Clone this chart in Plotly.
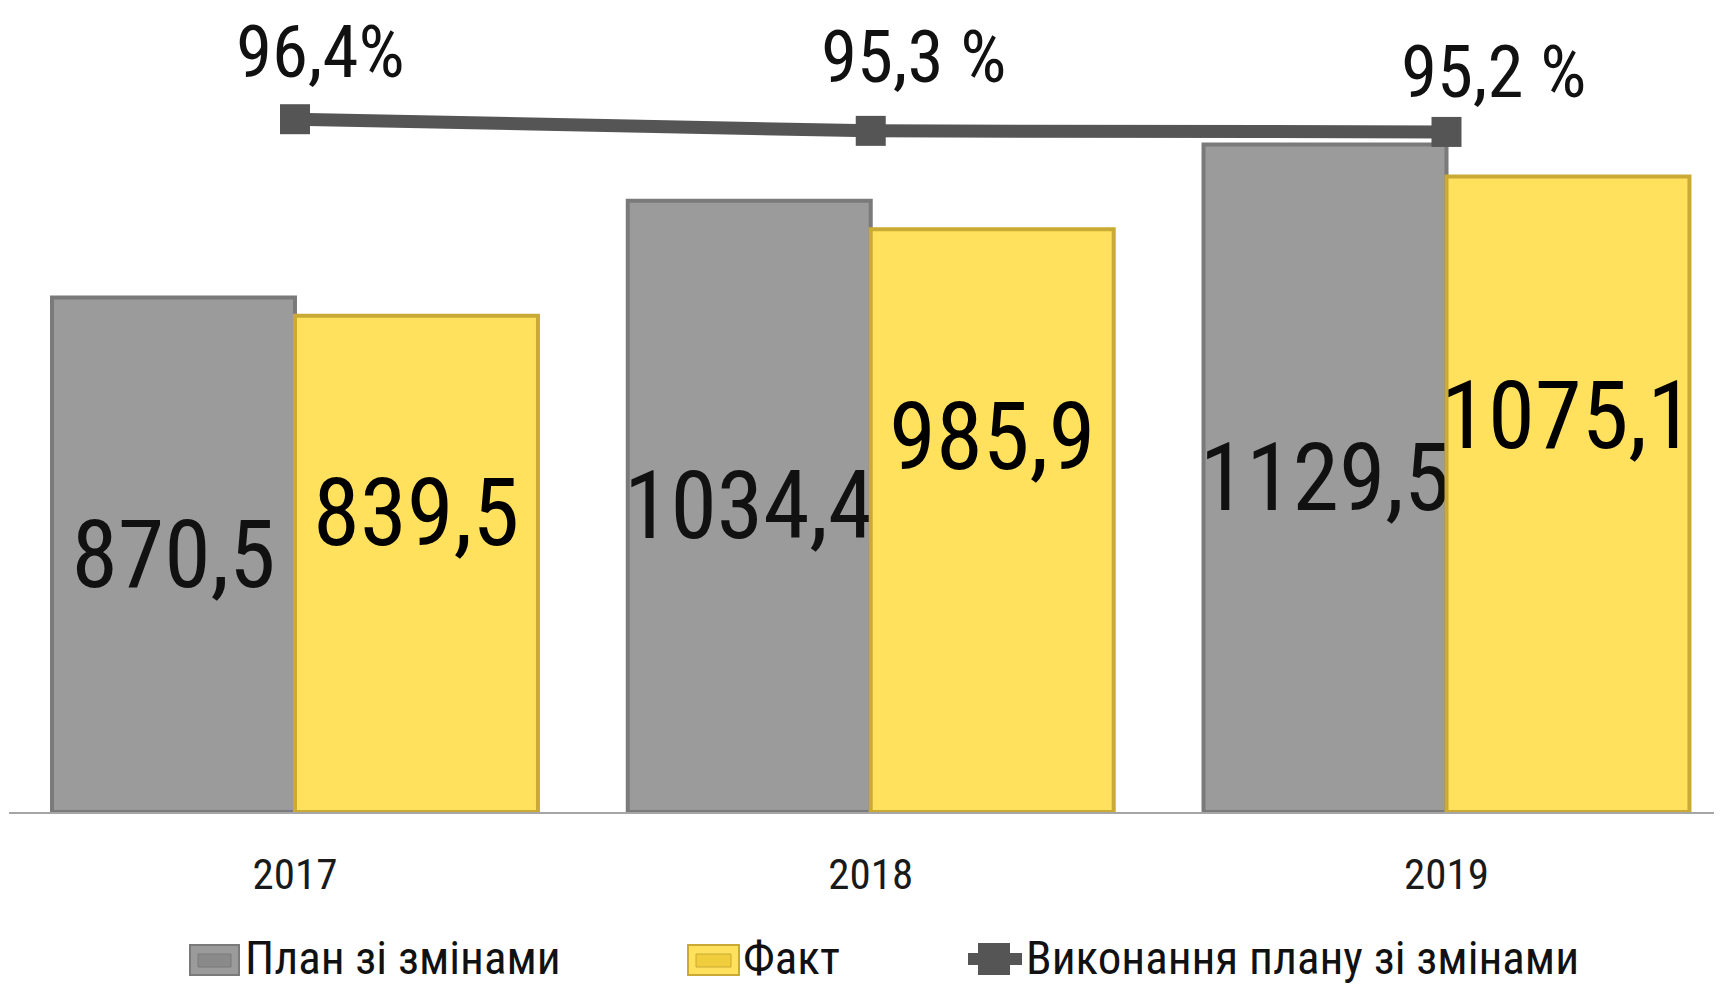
import plotly.graph_objects as go

# ---------------- data ----------------
years = ["2017", "2018", "2019"]
plan_values = [870.5, 1034.4, 1129.5]
fact_values = [839.5, 985.9, 1075.1]
execution_pct = [96.4, 95.3, 95.2]
pct_labels = ["96,4%", "95,3 %", "95,2 %"]
series_names = ["План зі змінами", "Факт", "Виконання плану зі змінами"]

# ---------------- style ----------------
PAGE_OFF = 8          # default body margin of the html page
W, H = 1714, 980
ML, MR, MT, MB = 1, 0, 12, 176
FONT = "Liberation Sans Narrow, Arial Narrow, Roboto Condensed, DejaVu Sans Condensed, sans-serif"
GRAY = "#9b9b9b"
GRAY_EDGE = "#7a7a7a"
YELLOW = "#ffe15e"
YELLOW_EDGE = "#c9aa34"
LINE_C = "#555555"
X_RANGE = [-0.4967, 2.4785]
Y_RANGE = [0, 1340.1]
Y2_RANGE = [31.04, 105.76]
BAR_W = 0.422

# label shifts (pixels) for the "Факт" value labels and the % labels
fact_label_yshift = [51, 84, 79]
pct_label_xshift = [26, 43, 47]
pct_label_yshift = [67, 74, 60]


def fmt(v):
    return f"{v:.1f}".replace(".", ",")


plot_w = W - ML - MR
plot_h = H - MT - MB
px_per_cat = plot_w / (X_RANGE[1] - X_RANGE[0])


def pxx(page_x):
    return (page_x - PAGE_OFF - ML) / plot_w


def pxy(page_y):
    return (H - MB - (page_y - PAGE_OFF)) / plot_h


fig = go.Figure()

fig.add_trace(go.Bar(
    x=years, y=plan_values, name=series_names[0],
    marker=dict(color=GRAY, line=dict(color=GRAY_EDGE, width=4)),
    text=[fmt(v) for v in plan_values], textposition="inside",
    insidetextanchor="middle", constraintext="none", textangle=0,
    textfont=dict(family=FONT, size=94, color="#111111"),
    showlegend=False, offsetgroup="a",
))
fig.add_trace(go.Bar(
    x=years, y=fact_values, name=series_names[1],
    marker=dict(color=YELLOW, line=dict(color=YELLOW_EDGE, width=4)),
    textposition="none", showlegend=False, offsetgroup="b",
))
fig.add_trace(go.Scatter(
    x=years, y=execution_pct, name=series_names[2], yaxis="y2",
    mode="lines+markers",
    line=dict(color=LINE_C, width=13),
    marker=dict(symbol="square", size=30, color=LINE_C),
    showlegend=False,
))

annotations = []
# Fact value labels (x given as category index)
for i, v in enumerate(fact_values):
    annotations.append(dict(
        x=i, y=v / 2, xref="x", yref="y", text=fmt(v), showarrow=False,
        xshift=BAR_W / 2 * px_per_cat, yshift=fact_label_yshift[i],
        font=dict(family=FONT, size=95, color="#000000"),
        xanchor="center", yanchor="middle",
    ))
# percentage labels
for i, v in enumerate(execution_pct):
    annotations.append(dict(
        x=i, y=v, xref="x", yref="y2", text=pct_labels[i], showarrow=False,
        xshift=pct_label_xshift[i], yshift=pct_label_yshift[i],
        font=dict(family=FONT, size=73, color="#111111"),
        xanchor="center", yanchor="middle", borderpad=0,
    ))

# custom legend
LEG_Y = 958
LEG_FONT = dict(family=FONT, size=47, color="#111111")
legend_text_x = [244, 742, 1025]
for name, tx in zip(series_names, legend_text_x):
    annotations.append(dict(
        x=pxx(tx), y=pxy(LEG_Y), xref="paper", yref="paper", text=name,
        showarrow=False, xanchor="left", yanchor="middle", font=LEG_FONT,
        borderpad=0,
    ))

shapes = []
for (x0, x1), fill, edge, inner in [((190, 239), GRAY, GRAY_EDGE, "#8a8a8a"),
                                    ((688, 739), YELLOW, YELLOW_EDGE, "#f0cd3c")]:
    shapes.append(dict(type="rect", xref="paper", yref="paper",
                       x0=pxx(x0), x1=pxx(x1), y0=pxy(975), y1=pxy(945),
                       fillcolor=fill, line=dict(color=edge, width=2)))
    shapes.append(dict(type="rect", xref="paper", yref="paper",
                       x0=pxx(x0 + 8), x1=pxx(x1 - 8), y0=pxy(967), y1=pxy(954),
                       fillcolor=inner, line=dict(color=edge, width=1)))
shapes.append(dict(type="line", xref="paper", yref="paper",
                   x0=pxx(968), x1=pxx(1022), y0=pxy(959), y1=pxy(959),
                   line=dict(color=LINE_C, width=12)))
shapes.append(dict(type="rect", xref="paper", yref="paper",
                   x0=pxx(978), x1=pxx(1010), y0=pxy(975), y1=pxy(943),
                   fillcolor=LINE_C, line=dict(width=0)))

fig.update_layout(
    width=W, height=H,
    margin=dict(l=ML, r=MR, t=MT, b=MB, pad=0),
    paper_bgcolor="white", plot_bgcolor="white",
    barmode="group", bargap=1 - 2 * BAR_W, bargroupgap=0,
    font=dict(family=FONT, color="#111111"),
    xaxis=dict(
        type="category", range=X_RANGE, showgrid=False, zeroline=False,
        showline=True, linecolor="#a6a6a6", linewidth=2, ticks="",
        tickfont=dict(family=FONT, size=43, color="#1a1a1a"),
        ticklabelstandoff=23,
    ),
    yaxis=dict(range=Y_RANGE, visible=False, showgrid=False, zeroline=False),
    yaxis2=dict(range=Y2_RANGE, overlaying="y", visible=False,
                showgrid=False, zeroline=False),
    annotations=annotations,
    shapes=shapes,
    showlegend=False,
)

fig.write_html("out.html")
